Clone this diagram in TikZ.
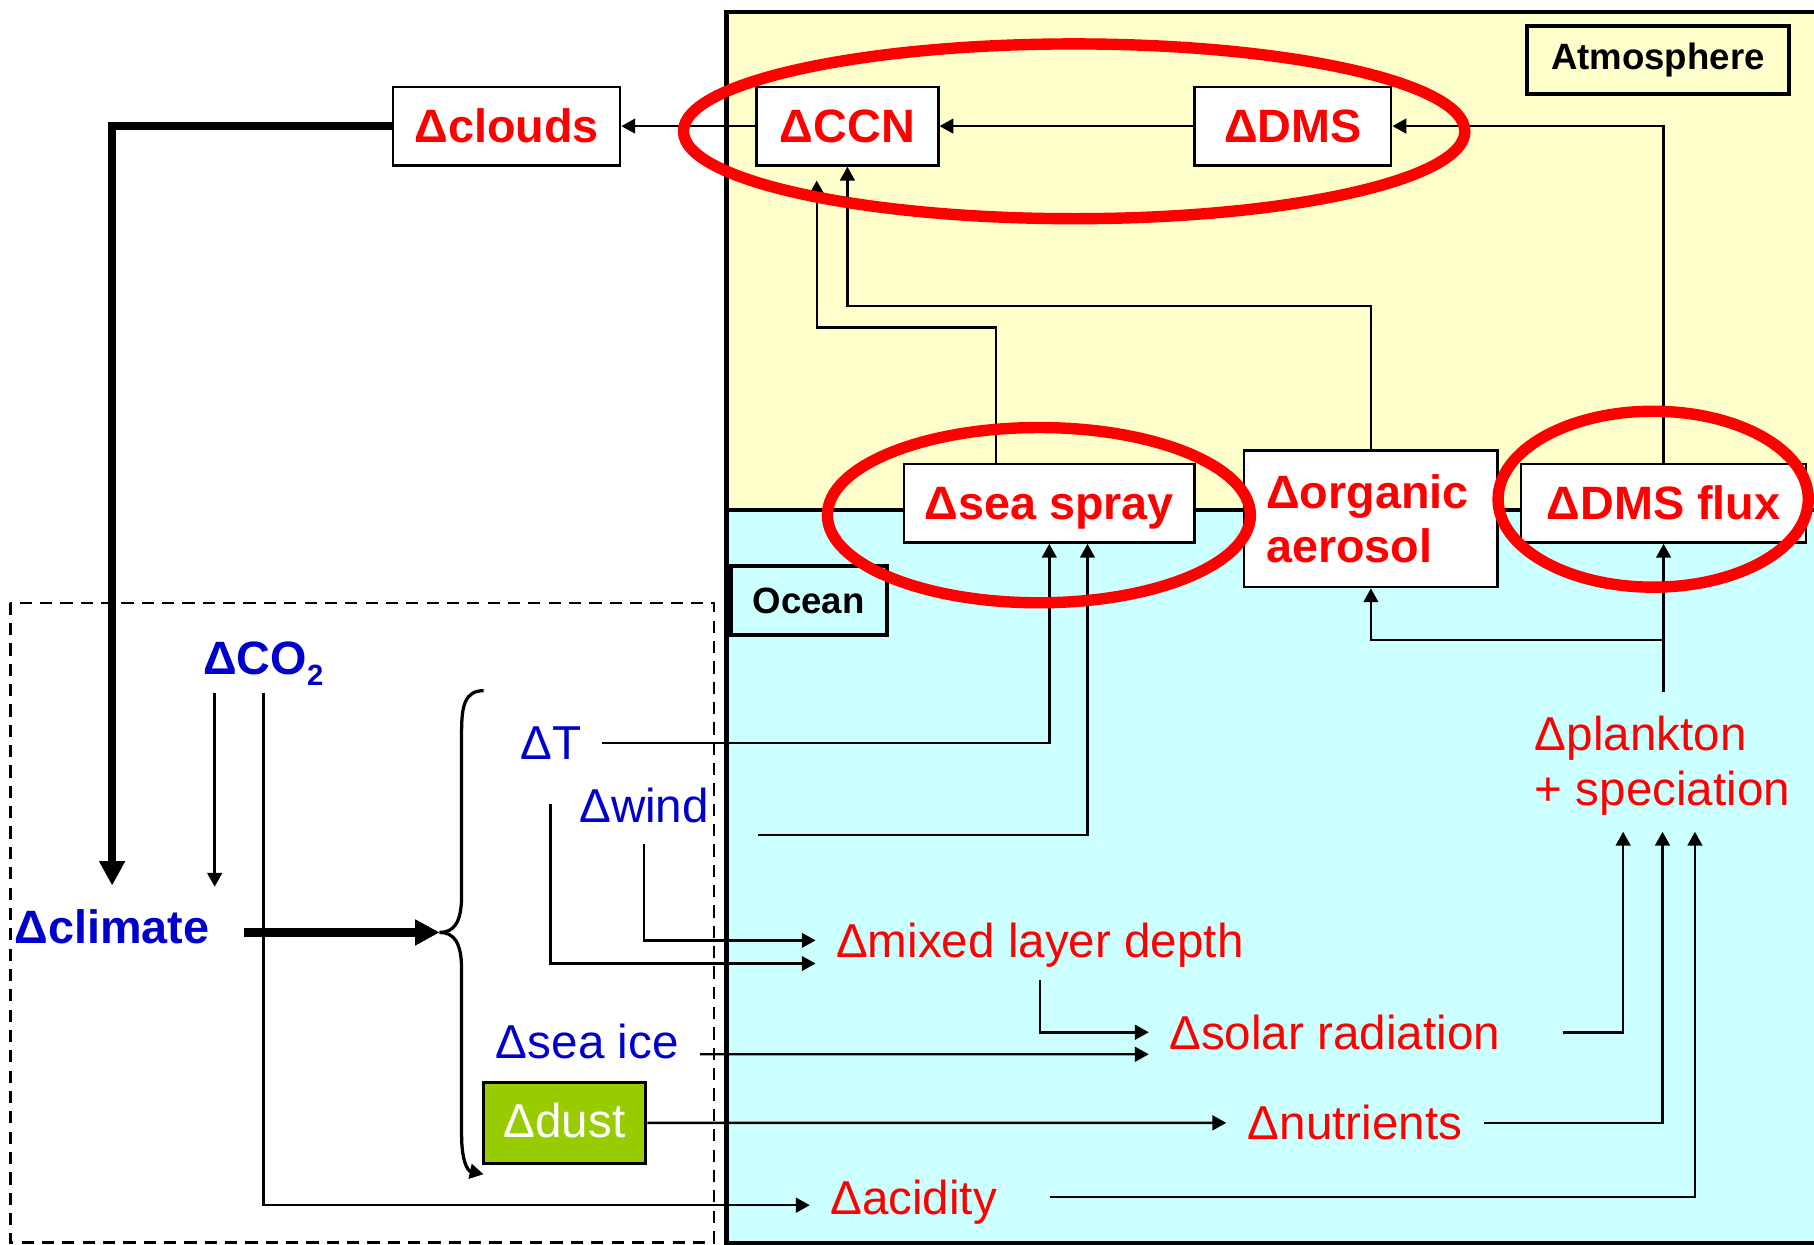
\documentclass[tikz,border=0pt]{standalone}
\usepackage{fontspec}
\setmainfont{Liberation Sans}
\usetikzlibrary{arrows.meta}

\definecolor{atmofill}{RGB}{255,255,204}
\definecolor{oceanfill}{RGB}{204,255,255}
\definecolor{dustfill}{RGB}{153,204,0}
\definecolor{fbred}{RGB}{255,0,0}
\definecolor{fbblue}{RGB}{0,0,204}

\tikzset{
  fbfont/.style={font=\fontsize{11.7}{13.7}\selectfont},
  fbbold/.style={font=\fontsize{11.5}{13.5}\selectfont\bfseries},
  fbbox/.style={draw, fill=white, line width=0.6pt, text=fbred, fbbold,
    inner sep=0pt, minimum height=0.68cm, text height=0.82em, text depth=0pt},
  fbtag/.style={draw, line width=1pt, inner sep=0pt, minimum height=0.59cm,
    font=\fontsize{9}{11}\selectfont\bfseries},
  bluetext/.style={fbfont, text=fbblue, inner sep=0pt, anchor=base west},
  redtext/.style={fbfont, text=fbred, inner sep=0pt, anchor=base west},
  link/.style={line width=0.6pt, -{Triangle[width=3.6pt,length=3.4pt]}},
  bigarrow/.style={line width=2pt, -{Triangle[width=6pt,length=6pt]}},
  ring/.style={draw=fbred, line width=2.8pt}
}

\begin{document}
\begin{tikzpicture}[x=0.01cm, y=-0.01cm]
\useasboundingbox (0,0) rectangle (1568,1076);

% atmosphere and ocean
\draw[fill=atmofill, line width=1pt] (628,10) rectangle (1600,441);
\draw[fill=oceanfill, line width=1pt] (628,441) rectangle (1600,1074.5);
\draw[dash pattern=on 3pt off 2pt, line width=0.6pt] (9,521) rectangle (617,1074);

\node[fbtag, minimum width=2.26cm] (atmotag) at (1433,52) {Atmosphere};
\node[fbtag, minimum width=1.35cm] (oceantag) at (699,519) {Ocean};

% boxes
\node[fbbox, minimum width=1.96cm] (clouds) at (438,109) {Δclouds};
\node[fbbox, minimum width=1.57cm] (ccn) at (732.5,109) {ΔCCN};
\node[fbbox, minimum width=1.70cm] (dms) at (1117.5,109) {ΔDMS};
\node[fbbox, minimum width=2.51cm] (spray) at (907,435) {Δsea spray};
\node[fbbox, minimum width=2.46cm] (dmsflux) at (1438,435) {ΔDMS flux};
\node[draw, fill=white, line width=0.6pt, text=fbred,
  font=\fontsize{11.5}{13.25}\selectfont\bfseries, inner xsep=0.19cm, inner ysep=0pt,
  minimum height=1.18cm, text width=1.81cm, align=left] (organic) at (1185,448.5)
  {Δorganic\\aerosol};

% drivers
\node[bluetext, fbbold] (co2) at (175,582.6)
  {ΔCO\raisebox{-2.8pt}{\fontsize{7.2}{8}\selectfont 2}};
\node[bluetext, fbbold] (climate) at (12,815.5) {Δclimate};
\node[bluetext] (dT) at (449,656.5) {ΔT};
\node[bluetext] (wind) at (500,710.6) {Δwind};
\node[bluetext] (seaice) at (428,915) {Δsea ice};
\node[draw, fill=dustfill, line width=0.9pt, text=white, fbfont, inner sep=0pt,
  minimum width=1.4cm, minimum height=0.7cm, text height=0.74em, text depth=0pt]
  (dust) at (488,970.6) {Δdust};

% ocean responses
\node[redtext] (mixed) at (722,828) {Δmixed layer depth};
\node[redtext] (solar) at (1010,907) {Δsolar radiation};
\node[redtext] (nutrients) at (1078,985.3) {Δnutrients};
\node[redtext] (acidity) at (717,1049.4) {Δacidity};
\node[redtext, anchor=north west, align=left] (plankton) at (1326,618)
  {Δplankton\\+ speciation};

% atmosphere links
\draw[link] (ccn.west) -- (clouds.east);
\draw[link] (dms.west) -- (ccn.east);
\draw[link] (dmsflux.north) |- (dms.east);
\draw[link] (organic.north) -- ++(0,-124) -| (ccn.south);
\draw[link, shorten >=0.12cm] ([xshift=-0.46cm]spray.north) -- ++(0,-117)
  -| ([xshift=-0.265cm]ccn.south);

% feedback to climate
\draw[bigarrow, shorten >=0.2cm] (clouds.west) -| (climate.north);
\coordinate (co2left) at ([xshift=-0.42cm]co2.south);
\draw[link, shorten <=0.06cm, shorten >=0.19cm] (co2left) -- (co2left |- climate.north);
\draw[link, shorten <=0.06cm, shorten >=0.17cm] (co2.south) |- ([yshift=-0.03cm]acidity.west);

% brace
\coordinate (bracetip) at (380,806);
\draw[line width=0.8pt] (418,597) .. controls (402,597) and (399,610) .. (399,632)
  -- (399,774) .. controls (399,798) and (392,806) .. (bracetip);
\draw[link, line width=0.8pt] (bracetip) .. controls (392,806) and (399,814) .. (399,838)
  -- (399,981) .. controls (399,1003) and (404,1012) .. (418,1015);
\draw[bigarrow, shorten <=0.29cm] (climate.east |- bracetip) -- (bracetip);

% physical changes
\draw[link, shorten <=0.17cm] (dT.east) -| (spray.south);
\coordinate (windstart) at (655,722);
\draw[link] (windstart) -| ([xshift=0.33cm]spray.south);
\draw[link, shorten <=0.18cm, shorten >=0.17cm] (wind.south) |- ([yshift=0.045cm]mixed.west);
\draw[link, shorten <=0.38cm, shorten >=0.17cm] (dT.south) |- ([yshift=-0.155cm]mixed.west);
\draw[link, shorten <=0.1cm, shorten >=0.17cm] (mixed.south) |- (solar.west);
\draw[link, shorten <=0.18cm, shorten >=0.17cm] ([yshift=-0.11cm]seaice.east)
  -- ([yshift=-0.19cm]solar.west);
\draw[link, shorten >=0.18cm] (dust.east) -- (nutrients.west);

% plankton
\draw[link, shorten <=0.54cm, shorten >=0.13cm] (solar.east) -| ([xshift=-0.34cm]plankton.south);
\draw[link, shorten <=0.18cm, shorten >=0.13cm] (nutrients.east) -| (plankton.south);
\draw[link, shorten <=0.45cm, shorten >=0.13cm] ([yshift=0.04cm]acidity.east)
  -| ([xshift=0.28cm]plankton.south);
\draw[link, shorten <=0.2cm] (dmsflux.south |- plankton.north) -- (dmsflux.south);
\coordinate (split) at (1438,553);
\draw[link] (split) -| (organic.south);

% highlights
\draw[ring] (928.5,113.5) ellipse [x radius=3.375cm, y radius=0.755cm];
\draw[ring] (898,445.3) ellipse [x radius=1.827cm, y radius=0.757cm];
\draw[ring] (1429,431.5) ellipse [x radius=1.34cm, y radius=0.76cm];

\end{tikzpicture}
\end{document}
